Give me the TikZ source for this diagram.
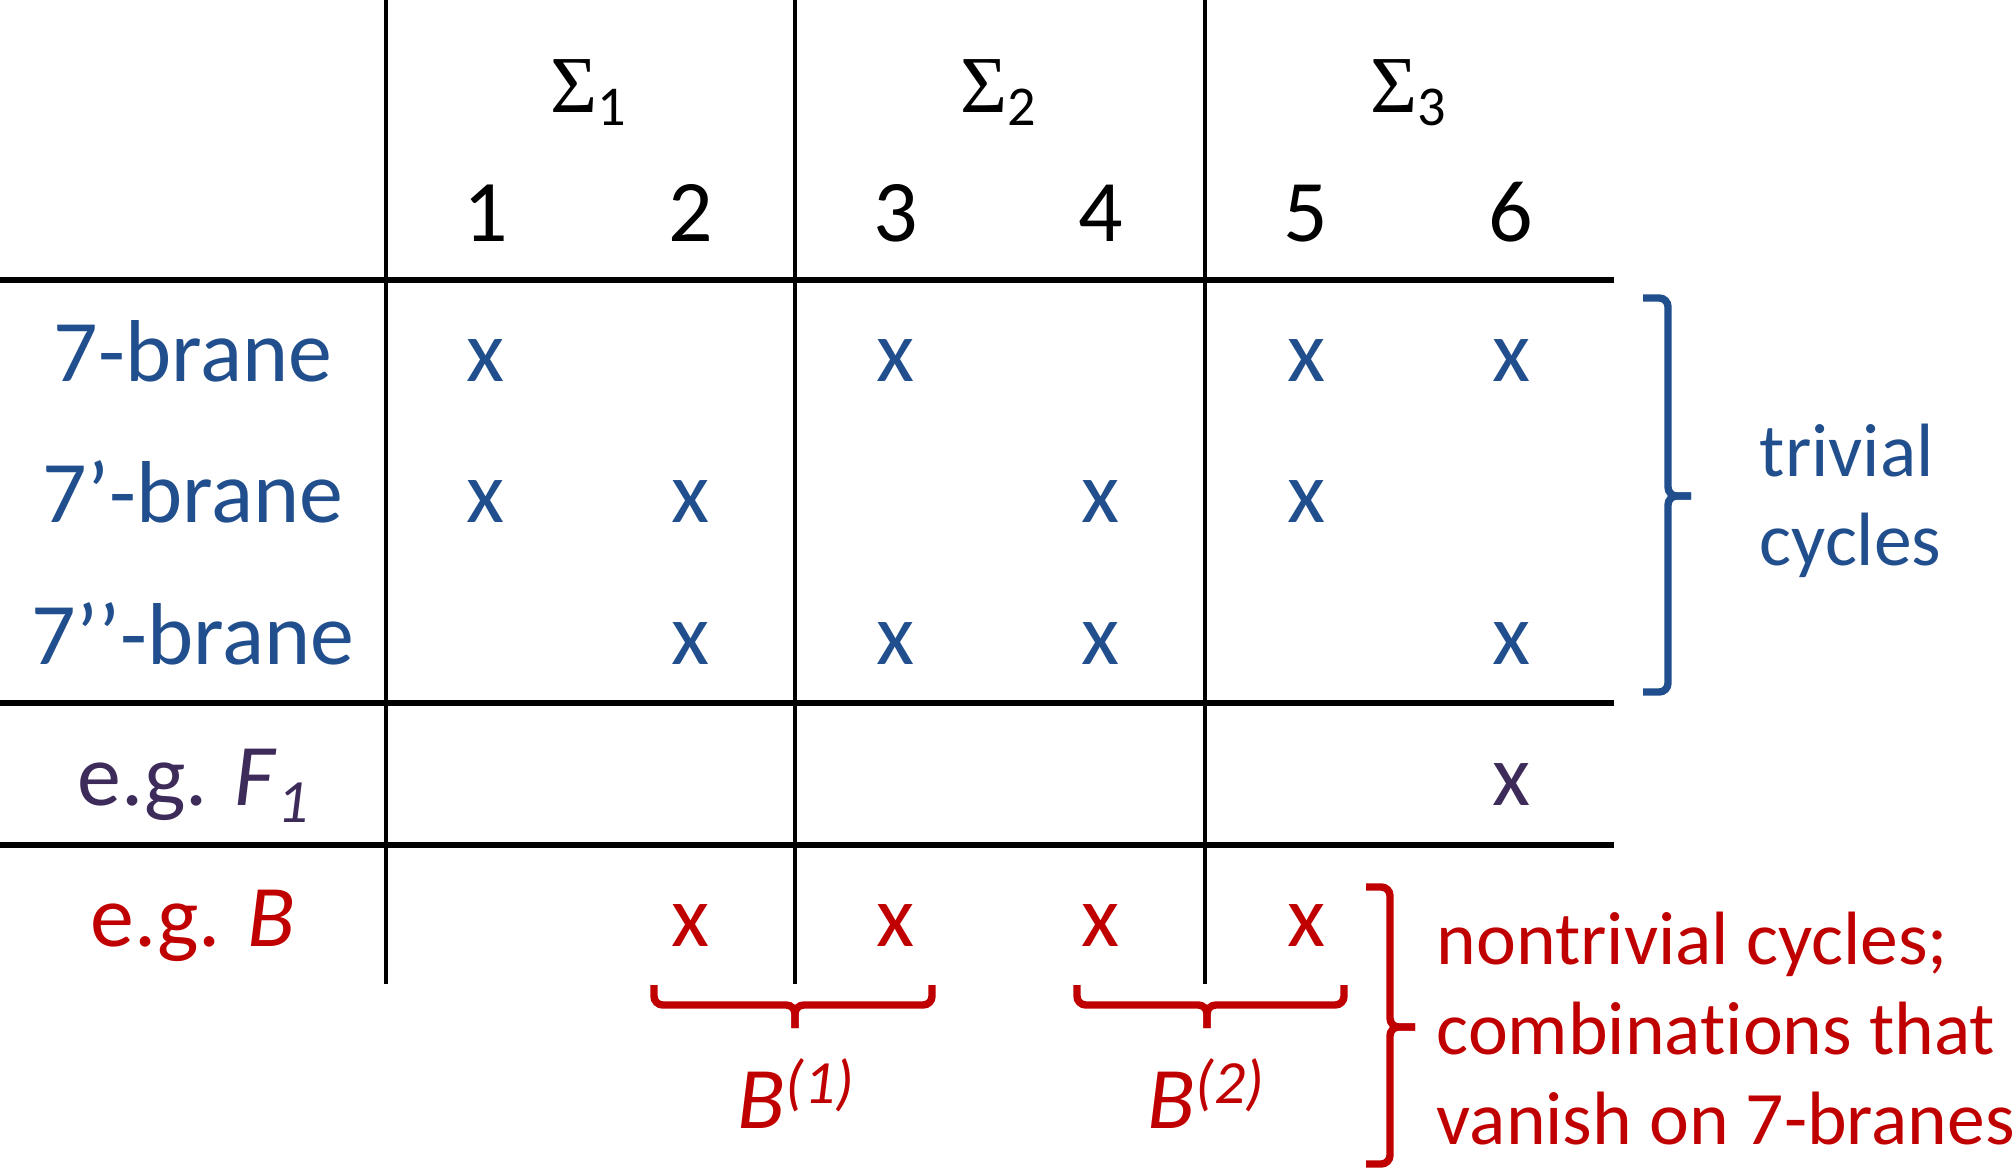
\documentclass[tikz,border=0pt]{standalone}
\usepackage{fontspec}
\setmainfont{Carlito}[Ligatures=NoCommon]
\newfontfamily\greekfont{Liberation Serif}
\definecolor{braneblue}{RGB}{33,79,141}
\definecolor{fluxpurple}{RGB}{61,43,90}
\definecolor{cyclered}{RGB}{192,0,0}
\newcommand{\cellfont}{\fontsize{25}{30}\selectfont}
\newcommand{\sidefont}{\fontsize{21.5}{25.6}\selectfont}
\newcommand{\indexfont}{\fontsize{17.5}{20}\selectfont}

\begin{document}
\begin{tikzpicture}[x=10mm,y=10mm,
	cell/.style={anchor=base,inner sep=0pt,font=\cellfont},
	side/.style={anchor=base west,align=left,inner sep=0pt,font=\sidefont},
	rule/.style={line width=1.6pt},
	bar/.style={line width=1.25pt},
	bracket/.style={line width=2.1pt,rounded corners=2.5pt}]
	\useasboundingbox (0,0) rectangle (20.16,11.69);
	\foreach \y in {8.887,4.657,3.243}{
		\draw [rule] (0,\y) -- (16.14,\y);
	}
	\foreach \x in {3.86,7.95,12.05}{
		\draw [bar] (\x,11.69) -- (\x,1.85);
	}
	\foreach \i in {1,...,6}{
		\node [cell] (n\i) at ({4.86+2.05*(\i-1)},9.27) {\i};
	}
	\foreach \s in {1,2,3}{
		\node [cell] (s\s) at ({5.885+4.1*(\s-1)},10.56) {{\greekfont\fontsize{23}{27}\selectfont Σ}\raisebox{-3.7pt}{\fontsize{16}{18}\selectfont\s}};
	}
	\node [cell,braneblue] (r1) at (1.93,7.87) {7-brane};
	\node [cell,braneblue] (r2) at (1.93,6.46) {7’-brane};
	\node [cell,braneblue] (r3) at (1.93,5.05) {7’’-brane};
	\node [cell,fluxpurple] (r4) at (1.93,3.64) {e.g. \textit{F}\raisebox{-5pt}{\indexfont\textit{1}}};
	\node [cell,cyclered] (r5) at (1.93,2.23) {e.g. \textit{B}};
	\foreach \row/\cols/\clr in {1/{1,3,5,6}/braneblue,2/{1,2,4,5}/braneblue,3/{2,3,4,6}/braneblue,4/{6}/fluxpurple,5/{2,3,4,5}/cyclered}{
		\foreach \k in \cols{
			\node [cell,text=\clr] (x\row\k) at ({4.86+2.05*(\k-1)},{7.87-1.41*(\row-1)}) {x};
		}
	}
	\draw [bracket,braneblue] (16.43,8.71) -- (16.68,8.71) -- (16.68,6.73) -- (16.91,6.73);
	\draw [bracket,braneblue] (16.91,6.73) -- (16.68,6.73) -- (16.68,4.77) -- (16.43,4.77);
	\node [side,braneblue] (triv) at (17.59,6.03) {trivial\\cycles};
	\draw [bracket,cyclered] (13.66,2.82) -- (13.90,2.82) -- (13.90,1.42) -- (14.15,1.42);
	\draw [bracket,cyclered] (14.15,1.42) -- (13.90,1.42) -- (13.90,0.05) -- (13.66,0.05);
	\node [side,cyclered] (nontriv) at (14.36,0.25) {nontrivial cycles;\\combinations that\\vanish on 7-branes};
	\draw [bracket,cyclered] (6.54,1.84) -- (6.54,1.64) -- (7.95,1.64) -- (7.95,1.41);
	\draw [bracket,cyclered] (9.32,1.84) -- (9.32,1.64) -- (7.95,1.64) -- (7.95,1.41);
	\draw [bracket,cyclered] (10.77,1.84) -- (10.77,1.64) -- (12.07,1.64) -- (12.07,1.41);
	\draw [bracket,cyclered] (13.44,1.84) -- (13.44,1.64) -- (12.07,1.64) -- (12.07,1.41);
	\node [cell,cyclered] (b1) at (7.96,0.41) {\textit{B}\raisebox{7pt}{\indexfont\textit{(1)}}};
	\node [cell,cyclered] (b2) at (12.06,0.41) {\textit{B}\raisebox{7pt}{\indexfont\textit{(2)}}};
\end{tikzpicture}
\end{document}
